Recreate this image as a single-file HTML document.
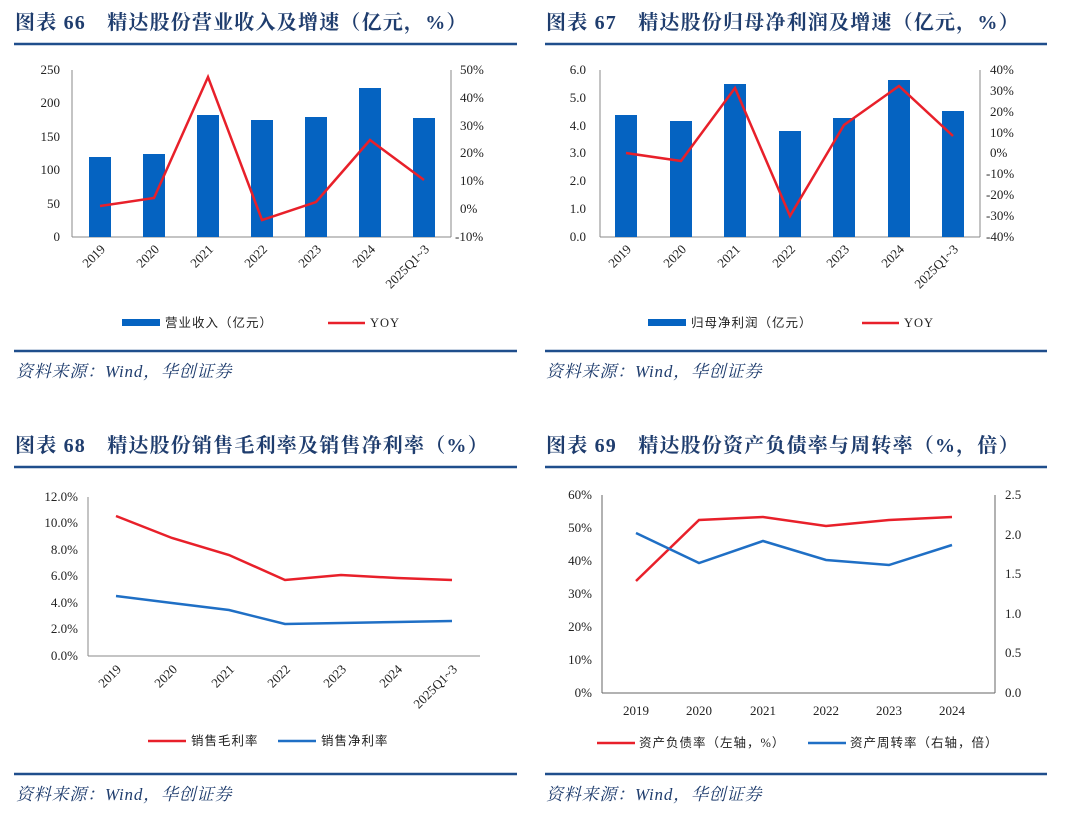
<!DOCTYPE html>
<html><head><meta charset="utf-8"><style>
body{margin:0;background:#fff;width:1080px;height:820px;overflow:hidden}
svg{font-family:"Liberation Serif","Noto Serif CJK SC",serif}
.t{font-family:"Liberation Serif","Noto Serif CJK SC",serif;font-weight:bold;font-size:20px;letter-spacing:1.2px;fill:#1f3d6e}
.s{font-family:"Liberation Serif","Noto Serif CJK SC",serif;font-style:italic;font-size:17px;letter-spacing:0.8px;fill:#1f3d6e}
.a{font-size:13px;fill:#222}
.l{font-size:12.5px;fill:#222;font-family:"Liberation Serif","Noto Sans CJK SC",sans-serif;letter-spacing:1px}
</style></head><body>
<svg width="1080" height="820" viewBox="0 0 1080 820">
<g stroke="#1f4e8c" stroke-width="2.5">
<line x1="14" y1="44" x2="517" y2="44"/><line x1="545" y1="44" x2="1047" y2="44"/>
<line x1="14" y1="351" x2="517" y2="351"/><line x1="545" y1="351" x2="1047" y2="351"/>
<line x1="14" y1="467" x2="517" y2="467"/><line x1="545" y1="467" x2="1047" y2="467"/>
<line x1="14" y1="774" x2="517" y2="774"/><line x1="545" y1="774" x2="1047" y2="774"/>
</g>
<text class="t" x="15" y="29">图表 66　精达股份营业收入及增速（亿元，%）</text>
<text class="t" x="546" y="29">图表 67　精达股份归母净利润及增速（亿元，%）</text>
<text class="t" x="15" y="452">图表 68　精达股份销售毛利率及销售净利率（%）</text>
<text class="t" x="546" y="452">图表 69　精达股份资产负债率与周转率（%，倍）</text>
<text class="s" x="16" y="377">资料来源：Wind，华创证券</text>
<text class="s" x="546" y="377">资料来源：Wind，华创证券</text>
<text class="s" x="16" y="800">资料来源：Wind，华创证券</text>
<text class="s" x="546" y="800">资料来源：Wind，华创证券</text>

<!-- chart 1 -->
<g stroke="#888" fill="none"><line x1="72" y1="70" x2="72" y2="237"/><line x1="72" y1="237" x2="451" y2="237"/><line x1="451" y1="70" x2="451" y2="237"/></g>
<g class="a" text-anchor="end">
<text x="60" y="74">250</text><text x="60" y="107">200</text><text x="60" y="141">150</text><text x="60" y="174">100</text><text x="60" y="208">50</text><text x="60" y="241">0</text></g>
<g class="a"><text x="460" y="74">50%</text><text x="460" y="102">40%</text><text x="460" y="130">30%</text><text x="460" y="157">20%</text><text x="460" y="185">10%</text><text x="460" y="213">0%</text><text x="455" y="241">-10%</text></g>
<g fill="#0563c1">
<rect x="89" y="157" width="22" height="80"/><rect x="143" y="154" width="22" height="83"/><rect x="197" y="115" width="22" height="122"/><rect x="251" y="120" width="22" height="117"/><rect x="305" y="117" width="22" height="120"/><rect x="359" y="88" width="22" height="149"/><rect x="413" y="118" width="22" height="119"/></g>
<polyline fill="none" stroke="#e8202a" stroke-width="2.5" points="100,206 154,198 208,77 262,220 316,202 370,140 424,180"/>
<g class="a" text-anchor="end">
<text transform="translate(106,250) rotate(-45)">2019</text><text transform="translate(160,250) rotate(-45)">2020</text><text transform="translate(214,250) rotate(-45)">2021</text><text transform="translate(268,250) rotate(-45)">2022</text><text transform="translate(322,250) rotate(-45)">2023</text><text transform="translate(376,250) rotate(-45)">2024</text><text transform="translate(430,250) rotate(-45)">2025Q1~3</text></g>
<rect x="122" y="319" width="38" height="7" fill="#0563c1"/><text class="l" x="165" y="327">营业收入（亿元）</text>
<line x1="328" y1="323" x2="365" y2="323" stroke="#e8202a" stroke-width="2.5"/><text class="l" x="370" y="327">YOY</text>

<!-- chart 2 -->
<g stroke="#888" fill="none"><line x1="600" y1="70" x2="600" y2="237"/><line x1="600" y1="237" x2="980" y2="237"/><line x1="980" y1="70" x2="980" y2="237"/></g>
<g class="a" text-anchor="end">
<text x="586" y="74">6.0</text><text x="586" y="102">5.0</text><text x="586" y="130">4.0</text><text x="586" y="157">3.0</text><text x="586" y="185">2.0</text><text x="586" y="213">1.0</text><text x="586" y="241">0.0</text></g>
<g class="a"><text x="990" y="74">40%</text><text x="990" y="95">30%</text><text x="990" y="116">20%</text><text x="990" y="137">10%</text><text x="990" y="157">0%</text><text x="986" y="178">-10%</text><text x="986" y="199">-20%</text><text x="986" y="220">-30%</text><text x="986" y="241">-40%</text></g>
<g fill="#0563c1">
<rect x="615" y="115" width="22" height="122"/><rect x="670" y="121" width="22" height="116"/><rect x="724" y="84" width="22" height="153"/><rect x="779" y="131" width="22" height="106"/><rect x="833" y="118" width="22" height="119"/><rect x="888" y="80" width="22" height="157"/><rect x="942" y="111" width="22" height="126"/></g>
<polyline fill="none" stroke="#e8202a" stroke-width="2.5" points="626,153 681,161 735,88 790,216 844,125 899,86 953,136"/>
<g class="a" text-anchor="end">
<text transform="translate(632,250) rotate(-45)">2019</text><text transform="translate(687,250) rotate(-45)">2020</text><text transform="translate(741,250) rotate(-45)">2021</text><text transform="translate(796,250) rotate(-45)">2022</text><text transform="translate(850,250) rotate(-45)">2023</text><text transform="translate(905,250) rotate(-45)">2024</text><text transform="translate(959,250) rotate(-45)">2025Q1~3</text></g>
<rect x="648" y="319" width="38" height="7" fill="#0563c1"/><text class="l" x="691" y="327">归母净利润（亿元）</text>
<line x1="862" y1="323" x2="899" y2="323" stroke="#e8202a" stroke-width="2.5"/><text class="l" x="904" y="327">YOY</text>

<!-- chart 3 -->
<g stroke="#888" fill="none"><line x1="88" y1="497" x2="88" y2="656"/><line x1="88" y1="656" x2="480" y2="656"/></g>
<g class="a" text-anchor="end">
<text x="78" y="501">12.0%</text><text x="78" y="527">10.0%</text><text x="78" y="554">8.0%</text><text x="78" y="580">6.0%</text><text x="78" y="607">4.0%</text><text x="78" y="633">2.0%</text><text x="78" y="660">0.0%</text></g>
<polyline fill="none" stroke="#e8202a" stroke-width="2.5" points="116,516 172,538 229,555 285,580 341,575 397,578 452,580"/>
<polyline fill="none" stroke="#1f6fc5" stroke-width="2.5" points="116,596 172,603 229,610 285,624 341,623 397,622 452,621"/>
<g class="a" text-anchor="end">
<text transform="translate(122,670) rotate(-45)">2019</text><text transform="translate(178,670) rotate(-45)">2020</text><text transform="translate(235,670) rotate(-45)">2021</text><text transform="translate(291,670) rotate(-45)">2022</text><text transform="translate(347,670) rotate(-45)">2023</text><text transform="translate(403,670) rotate(-45)">2024</text><text transform="translate(458,670) rotate(-45)">2025Q1~3</text></g>
<line x1="148" y1="741" x2="186" y2="741" stroke="#e8202a" stroke-width="2.5"/><text class="l" x="191" y="745">销售毛利率</text>
<line x1="278" y1="741" x2="316" y2="741" stroke="#1f6fc5" stroke-width="2.5"/><text class="l" x="321" y="745">销售净利率</text>

<!-- chart 4 -->
<g stroke="#666" fill="none"><line x1="602" y1="495" x2="602" y2="693"/><line x1="602" y1="693" x2="995" y2="693"/><line x1="995" y1="495" x2="995" y2="693"/></g>
<g class="a" text-anchor="end">
<text x="592" y="499">60%</text><text x="592" y="532">50%</text><text x="592" y="565">40%</text><text x="592" y="598">30%</text><text x="592" y="631">20%</text><text x="592" y="664">10%</text><text x="592" y="697">0%</text></g>
<g class="a"><text x="1005" y="499">2.5</text><text x="1005" y="539">2.0</text><text x="1005" y="578">1.5</text><text x="1005" y="618">1.0</text><text x="1005" y="657">0.5</text><text x="1005" y="697">0.0</text></g>
<polyline fill="none" stroke="#e8202a" stroke-width="2.5" points="636,581 699,520 763,517 826,526 889,520 952,517"/>
<polyline fill="none" stroke="#1f6fc5" stroke-width="2.5" points="636,533 699,563 763,541 826,560 889,565 952,545"/>
<g class="a" text-anchor="middle"><text x="636" y="715">2019</text><text x="699" y="715">2020</text><text x="763" y="715">2021</text><text x="826" y="715">2022</text><text x="889" y="715">2023</text><text x="952" y="715">2024</text></g>
<line x1="597" y1="743" x2="635" y2="743" stroke="#e8202a" stroke-width="2.5"/><text class="l" x="639" y="747">资产负债率（左轴，%）</text>
<line x1="808" y1="743" x2="846" y2="743" stroke="#1f6fc5" stroke-width="2.5"/><text class="l" x="850" y="747">资产周转率（右轴，倍）</text>
</svg>
</body></html>
